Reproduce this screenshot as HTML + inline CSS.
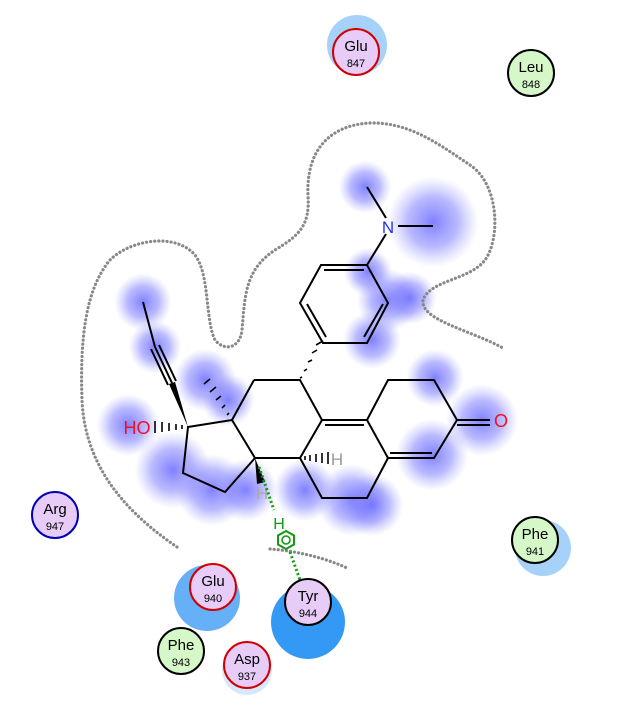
<!DOCTYPE html>
<html><head><meta charset="utf-8"><style>
body{margin:0;background:#fff;}
svg{display:block;font-family:"Liberation Sans","DejaVu Sans",sans-serif;}
</style></head><body>
<svg width="619" height="719" viewBox="0 0 619 719">
<defs>
<radialGradient id="bl"><stop offset="0" stop-color="#6a6aff" stop-opacity="0.85"/><stop offset="0.55" stop-color="#8080ff" stop-opacity="0.55"/><stop offset="1" stop-color="#a0a0ff" stop-opacity="0"/></radialGradient>
</defs>
<g id="blobs"></g>
<path d="M177,547 C130,515 85,470 82,400 C80,340 85,290 110,260 C130,240 175,232 195,255 C210,275 205,320 215,340 C225,352 240,348 242,330 C245,295 245,270 275,250 C300,235 310,225 308,195 C306,150 330,125 370,123 C410,122 440,145 470,165 C500,185 500,240 485,260 C470,280 430,280 423,300 C420,320 470,330 503,348" fill="none" stroke="#888" stroke-width="3.2" stroke-dasharray="0.1 4" stroke-linecap="round"/>
<path d="M270,549 C300,551 330,560 347,568" fill="none" stroke="#888" stroke-width="3.2" stroke-dasharray="0.1 4" stroke-linecap="round"/>
<g id="bonds" stroke="#000" stroke-width="2" fill="none">
<line x1="367" y1="187" x2="386" y2="218"/><line x1="398" y1="226" x2="433" y2="226"/><line x1="386" y1="234" x2="367" y2="265"/>
<polygon points="367,265 321,265 300,303 323,343 367,343 388,303"/>
<line x1="324" y1="270" x2="364" y2="270"/><line x1="307" y1="304" x2="326" y2="337"/><line x1="383" y1="304" x2="364" y2="337"/>
<polyline points="254,380 300,380 322,420 367,420 388,380 434,380 457,420 434,458 388,458 367,420"/>
<line x1="325" y1="425" x2="364" y2="425"/><line x1="390" y1="453" x2="432" y2="453"/>
<line x1="457" y1="420" x2="490" y2="420"/><line x1="457" y1="425" x2="490" y2="425"/>
<polyline points="254,380 232,420 255,458 300,458 322,420"/>
<polyline points="300,458 322,498 367,498 388,458"/>
<polyline points="232,420 188,427 183,473 225,492 255,458"/>
<line x1="143" y1="302" x2="155" y2="347"/>
<line x1="155" y1="347" x2="172" y2="383"/><line x1="151" y1="349" x2="168" y2="385"/><line x1="159" y1="345" x2="176" y2="381"/>
</g>
<polygon points="188,427 169,384 175,382" fill="#000"/>
<g stroke="#000" stroke-width="1.6">
<line x1="323" y1="341" x2="316" y2="345"/><line x1="317" y1="350" x2="312" y2="353"/><line x1="312" y1="360" x2="308" y2="362"/><line x1="307" y1="369" x2="304" y2="371"/><line x1="302" y1="377" x2="300" y2="378"/>
<line x1="204" y1="384" x2="210" y2="379"/><line x1="210" y1="392" x2="216" y2="387"/><line x1="216" y1="400" x2="221" y2="396"/><line x1="222" y1="408" x2="225" y2="405"/><line x1="227" y1="415" x2="229" y2="413"/>
<line x1="155" y1="421" x2="155" y2="433"/><line x1="162" y1="422" x2="162" y2="432"/><line x1="169" y1="423" x2="169" y2="431"/><line x1="176" y1="424" x2="176" y2="430"/><line x1="182" y1="425" x2="182" y2="429"/>
<line x1="328" y1="452" x2="328" y2="464"/><line x1="322" y1="453" x2="322" y2="463"/><line x1="316" y1="454" x2="316" y2="462"/><line x1="310" y1="455" x2="310" y2="461"/><line x1="305" y1="456" x2="305" y2="460"/>
</g>
<polygon points="255,458 257,484 265,482" fill="#000"/>
<text x="388" y="233" font-size="17" fill="#2233ee" text-anchor="middle">N</text>
<text x="501" y="427" font-size="18" fill="#ee1122" text-anchor="middle">O</text>
<text x="137" y="434" font-size="18" fill="#ee1122" text-anchor="middle">HO</text>
<text x="337" y="465" font-size="17" fill="#999" text-anchor="middle">H</text>
<text x="262" y="499" font-size="17" fill="#aaa" text-anchor="middle">H</text>
<g>
<line x1="259" y1="467" x2="274" y2="510" stroke="#139913" stroke-width="3" stroke-dasharray="2 2.5"/>
<line x1="290" y1="552" x2="300" y2="580" stroke="#139913" stroke-width="3" stroke-dasharray="2 2.5"/>
<text x="279" y="529" font-size="16" fill="#139913" text-anchor="middle">H</text>
<polygon points="286,531 294,535.5 294,544.5 286,549 278,544.5 278,535.5" fill="none" stroke="#139913" stroke-width="2"/>
<circle cx="286" cy="540" r="4" fill="none" stroke="#139913" stroke-width="1.6"/>
</g>
<g id="residues"></g>
</svg>
<script>
const NS='http://www.w3.org/2000/svg';
const blobX=[143,155,205,128,173,212,246,305,352,372,435,482,432,365,433,388,372,410,368,228];
const blobY=[302,347,380,425,470,490,490,490,500,505,378,420,455,187,222,300,340,298,272,400];
const blobR=[24,22,26,26,32,30,26,26,30,26,24,30,30,22,38,26,24,22,20,22];
const bg=document.getElementById('blobs');
for(let i=0;i<blobX.length;i++){const c=document.createElementNS(NS,'circle');


c.setAttribute('cx',blobX[i]);c.setAttribute('cy',blobY[i]);c.setAttribute('r',blobR[i]*1.2);c.setAttribute('fill','url(#bl)');bg.appendChild(c);}
const resName=['Glu','Leu','Arg','Phe','Glu','Tyr','Phe','Asp'];
const resNum=['847','848','947','941','940','944','943','937'];
const resX=[356,531,55,535,213,308,181,247];
const resY=[52,73,515,540,587,602,651,665];
const resFill=['#e8ccf8','#d6f8c8','#e8ccf8','#d6f8c8','#e8ccf8','#e8ccf8','#d6f8c8','#e8ccf8'];
const resStroke=['#d00000','#000','#0000b0','#000','#d00000','#000','#000','#d00000'];
const haloDX=[1,0,0,8,-6,0,0,0],haloDY=[-7,0,0,8,11,20,0,5],haloR=[30,24,24,28,33,37,24,25];
const haloC=['#a6d2fa','#e4f0fc','#e4eefc','#a6d2fa','#66b0f8','#3399f5','#eef6fc','#d6e8fc'];
const rg=document.getElementById('residues');
for(let i=0;i<resName.length;i++){
const h=document.createElementNS(NS,'circle');


h.setAttribute('cx',resX[i]+haloDX[i]);h.setAttribute('cy',resY[i]+haloDY[i]);h.setAttribute('r',haloR[i]);h.setAttribute('fill',haloC[i]);rg.appendChild(h);}
for(let i=0;i<resName.length;i++){
const g=document.createElementNS(NS,'g');


const c=document.createElementNS(NS,'circle');
c.setAttribute('cx',resX[i]);c.setAttribute('cy',resY[i]);c.setAttribute('r',23);c.setAttribute('fill',resFill[i]);c.setAttribute('stroke',resStroke[i]);c.setAttribute('stroke-width',2);
g.appendChild(c);
const t=document.createElementNS(NS,'text');t.setAttribute('x',resX[i]);t.setAttribute('y',resY[i]-1);t.setAttribute('text-anchor','middle');t.setAttribute('font-size','15');t.textContent=resName[i];g.appendChild(t);
const n=document.createElementNS(NS,'text');n.setAttribute('x',resX[i]);n.setAttribute('y',resY[i]+15);n.setAttribute('text-anchor','middle');n.setAttribute('font-size','11');n.textContent=resNum[i];g.appendChild(n);
rg.appendChild(g);}
</script>
</body></html>
